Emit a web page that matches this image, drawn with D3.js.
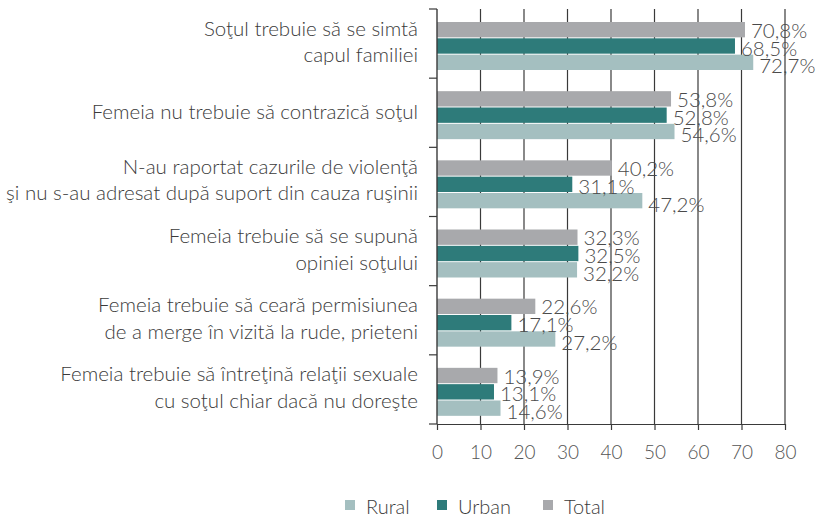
<!DOCTYPE html>
<html>
<head>
<meta charset="utf-8">
<script src="https://d3js.org/d3.v7.min.js"></script>
<style>
  body { margin: 0; background: #fff; }
  text { font-family: Lato, "Open Sans", sans-serif; font-weight: 300; }
</style>
</head>
<body>
<svg width="817" height="516"></svg>
<script>
// categories (each split on two lines where the original breaks)
var categories = [
  ["Soţul trebuie să se simtă", "capul familiei"],
  ["Femeia nu trebuie să contrazică soţul"],
  ["N-au raportat cazurile de violenţă", "şi nu s-au adresat după suport din cauza ruşinii"],
  ["Femeia trebuie să se supună", "opiniei soţului"],
  ["Femeia trebuie să ceară permisiunea", "de a merge în vizită la rude, prieteni"],
  ["Femeia trebuie să întreţină relaţii sexuale", "cu soţul chiar dacă nu doreşte"]
];
var seriesNames = ["Total", "Urban", "Rural"];
var totalValues = [70.8, 53.8, 40.2, 32.3, 22.6, 13.9];
var urbanValues = [68.5, 52.8, 31.1, 32.5, 17.1, 13.1];
var ruralValues = [72.7, 54.6, 47.2, 32.2, 27.2, 14.6];
var xTicks = [0, 10, 20, 30, 40, 50, 60, 70, 80];
var legendOrder = ["Rural", "Urban", "Total"];

var colors = { Total: "#a8a9ac", Urban: "#2e7b7a", Rural: "#a4bfc0" };
var valuesBy = { Total: totalValues, Urban: urbanValues, Rural: ruralValues };

var svg = d3.select("svg");
var fmt = function (v) { return d3.format(".1f")(v).replace(".", ",") + "%"; };

var x = d3.scaleLinear().domain([0, 80]).range([437, 785]);
var y = d3.scaleBand().domain(d3.range(categories.length)).range([9, 424]);
var inner = d3.scaleBand().domain(seriesNames).range([13, 61]).paddingInner(0.06);

// vertical gridlines
svg.append("g").selectAll("line")
  .data(xTicks.slice(1))
  .enter().append("line")
  .attr("x1", function (d) { return x(d); })
  .attr("x2", function (d) { return x(d); })
  .attr("y1", 9)
  .attr("y2", 424)
  .attr("stroke", "#3a3a3a")
  .attr("stroke-width", 1.2);

// bars
var groups = svg.append("g").selectAll("g")
  .data(categories)
  .enter().append("g")
  .attr("transform", function (d, i) { return "translate(0," + y(i) + ")"; });

groups.each(function (c, i) {
  var g = d3.select(this);
  seriesNames.forEach(function (s) {
    var v = valuesBy[s][i];
    g.append("rect")
      .attr("x", x(0))
      .attr("y", inner(s))
      .attr("width", x(v) - x(0))
      .attr("height", inner.bandwidth())
      .attr("fill", colors[s]);
  });
});

// bottom axis
var xAxis = svg.append("g")
  .attr("transform", "translate(0,424)")
  .call(d3.axisBottom(x).tickValues(xTicks).tickSize(6).tickSizeOuter(0).tickPadding(16));
xAxis.select(".domain").attr("stroke", "#3a3a3a").attr("stroke-width", 1.2);
xAxis.selectAll(".tick line").attr("stroke", "#3a3a3a").attr("stroke-width", 1.2);
xAxis.selectAll(".tick text")
  .attr("fill", "#555")
  .style("font-size", "19px")
  .style("font-family", "Lato, sans-serif")
  .style("font-weight", 300);

// left axis with ticks at category boundaries
var bounds = d3.range(categories.length).map(function (i) { return y(i); }).concat([y.range()[1]]);
var yAxis = svg.append("g");
yAxis.append("line")
  .attr("x1", x(0)).attr("x2", x(0))
  .attr("y1", y.range()[0]).attr("y2", y.range()[1])
  .attr("stroke", "#3a3a3a").attr("stroke-width", 1.4);
yAxis.selectAll(".yt")
  .data(bounds)
  .enter().append("line")
  .attr("x1", x(0) - 8).attr("x2", x(0))
  .attr("y1", function (d) { return d; })
  .attr("y2", function (d) { return d; })
  .attr("stroke", "#3a3a3a").attr("stroke-width", 1.2);

// category labels
groups.append("text")
  .attr("text-anchor", "end")
  .attr("fill", "#3b3b3b")
  .style("font-size", "20.5px")
  .each(function (lines) {
    var t = d3.select(this);
    var mid = y.bandwidth() / 2;
    var start = lines.length === 1 ? mid - 2 : mid - 16;
    lines.forEach(function (l, k) {
      t.append("tspan")
        .attr("x", 418)
        .attr("y", start + k * 26.5)
        .attr("dominant-baseline", "central")
        .text(l);
    });
  });

// value labels
groups.each(function (c, i) {
  var g = d3.select(this);
  seriesNames.forEach(function (s, k) {
    var v = valuesBy[s][i];
    g.append("text")
      .attr("x", x(v) + 6)
      .attr("y", inner(s) + inner.bandwidth() / 2 + k * 1.5)
      .attr("dominant-baseline", "central")
      .attr("fill", "#4a4a4a")
      .style("font-size", "20.5px")
      .text(fmt(v));
  });
});

// legend
var legend = svg.append("g").attr("transform", "translate(0,505)");
var legendX = [345, 437, 543];
legendOrder.forEach(function (s, k) {
  legend.append("rect")
    .attr("x", legendX[k])
    .attr("y", -5)
    .attr("width", 10)
    .attr("height", 10)
    .attr("fill", colors[s]);
  legend.append("text")
    .attr("x", legendX[k] + 21)
    .attr("y", 1)
    .attr("dominant-baseline", "central")
    .attr("fill", "#3b3b3b")
    .style("font-size", "20px")
    .text(s);
});
</script>
</body>
</html>
